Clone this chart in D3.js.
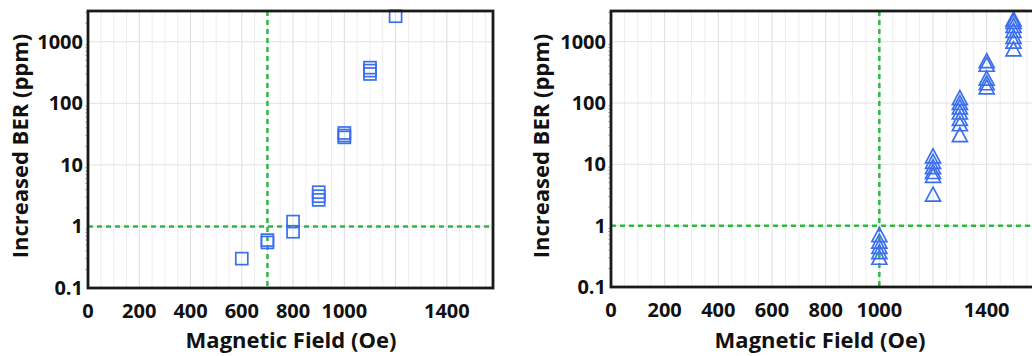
<!DOCTYPE html>
<html>
<head>
<meta charset="utf-8">
<script src="https://cdn.jsdelivr.net/npm/d3@7"></script>
<style>
  body { margin: 0; background: #fff; }
  svg text { font-family: "Open Sans", "Noto Sans", sans-serif; font-weight: 700; fill: #111; }
</style>
</head>
<body>
<div id="chart"></div>
<script>
(function () {
    'use strict';

    // tick labels shown on the axes
    var fieldTicks = [0, 200, 400, 600, 800, 1000, 1400],
        berTicks = [0.1, 1, 10, 100, 1000],
        berTickLabels = ["0.1", "1", "10", "100", "1000"];

    // left panel: square markers
    var squareField = [600, 700, 700, 800, 800, 900, 900, 900, 1000, 1000, 1000, 1100, 1100, 1100, 1200],
        squareBER = [0.3, 0.55, 0.6, 1.2, 0.82, 3.6, 3.1, 2.7, 33, 30, 28, 380, 340, 300, 2600],
        squareLimit = [700, 1];

    // right panel: triangle markers
    var triangleField = [1000, 1000, 1000, 1000, 1000,
            1200, 1200, 1200, 1200, 1200, 1200,
            1300, 1300, 1300, 1300, 1300, 1300, 1300,
            1400, 1400, 1400, 1400, 1400,
            1500, 1500, 1500, 1500, 1500, 1500, 1500],
        triangleBER = [0.7, 0.55, 0.45, 0.37, 0.3,
            13.5, 11, 9, 7.5, 6.5, 3.2,
            120, 100, 85, 70, 55, 45, 30,
            480, 420, 250, 210, 180,
            2300, 2100, 1800, 1500, 1200, 1000, 750],
        triangleLimit = [1000, 1];

    var width = 1032, height = 356,
        markColor = "#3b6ff0",
        limitColor = "#2fb944";

    var svg = d3.select("#chart").append("svg")
        .attr("width", width)
        .attr("height", height);

    function drawPanel(opt) {
        var x = d3.scaleLinear().domain([0, 1580]).range([opt.left, opt.right]),
            y = d3.scaleLog().domain([0.1, Math.pow(10, 3.5)]).range([opt.bottom, opt.top]),
            g = svg.append("g");

        // vertical grid, light every 50, a bit darker every 200
        g.append("g").selectAll("line")
            .data(d3.range(0, 1580, 50))
            .enter().append("line")
            .attr("x1", function (d) { return x(d); })
            .attr("x2", function (d) { return x(d); })
            .attr("y1", opt.top)
            .attr("y2", opt.bottom)
            .attr("stroke", function (d) { return d % 200 === 0 ? "#dcdcdc" : "#eeeeee"; })
            .attr("stroke-width", 1);

        // horizontal grid at decades
        g.append("g").selectAll("line")
            .data(berTicks)
            .enter().append("line")
            .attr("x1", opt.left)
            .attr("x2", opt.right)
            .attr("y1", function (d) { return y(d); })
            .attr("y2", function (d) { return y(d); })
            .attr("stroke", "#e2e2e2")
            .attr("stroke-width", 1);

        // minor log ticks on the y axis
        var minor = [];
        [0.1, 1, 10, 100, 1000].forEach(function (dec) {
            for (var k = 2; k < 10; k++) {
                if (dec * k <= y.domain()[1]) { minor.push(dec * k); }
            }
        });
        g.append("g").selectAll("line")
            .data(minor)
            .enter().append("line")
            .attr("x1", opt.left - 3)
            .attr("x2", opt.left)
            .attr("y1", function (d) { return y(d); })
            .attr("y2", function (d) { return y(d); })
            .attr("stroke", "#bbb");

        // threshold lines
        g.append("line")
            .attr("x1", x(opt.limit[0])).attr("x2", x(opt.limit[0]))
            .attr("y1", opt.top).attr("y2", opt.bottom)
            .attr("stroke", limitColor).attr("stroke-width", 2.5)
            .attr("stroke-dasharray", "5,4");
        g.append("line")
            .attr("x1", opt.left).attr("x2", opt.right)
            .attr("y1", y(opt.limit[1])).attr("y2", y(opt.limit[1]))
            .attr("stroke", limitColor).attr("stroke-width", 2.5)
            .attr("stroke-dasharray", "5,4");

        // markers
        var pts = opt.field.map(function (f, i) { return {f: f, v: opt.values[i]}; });
        if (opt.shape === "square") {
            g.append("g").selectAll("rect")
                .data(pts)
                .enter().append("rect")
                .attr("x", function (d) { return x(d.f) - 6; })
                .attr("y", function (d) { return y(d.v) - 6; })
                .attr("width", 12)
                .attr("height", 12)
                .attr("fill", "none")
                .attr("stroke", markColor)
                .attr("stroke-width", 1.7);
        } else {
            g.append("g").selectAll("path")
                .data(pts)
                .enter().append("path")
                .attr("transform", function (d) {
                    return "translate(" + x(d.f) + "," + y(d.v) + ")";
                })
                .attr("d", "M0,-7.5L7.5,6.5L-7.5,6.5Z")
                .attr("fill", "none")
                .attr("stroke", markColor)
                .attr("stroke-width", 1.7);
        }

        // frame
        g.append("rect")
            .attr("x", opt.left)
            .attr("y", opt.top)
            .attr("width", opt.right - opt.left)
            .attr("height", opt.bottom - opt.top)
            .attr("fill", "none")
            .attr("stroke", "#1a1a1a")
            .attr("stroke-width", 2.8);

        // tick labels
        g.append("g").selectAll("text")
            .data(fieldTicks)
            .enter().append("text")
            .attr("x", function (d) { return x(d); })
            .attr("y", opt.bottom + 30)
            .attr("text-anchor", "middle")
            .style("font-size", "20px")
            .text(function (d) { return d; });

        g.append("g").selectAll("text")
            .data(berTicks)
            .enter().append("text")
            .attr("x", opt.left - 5)
            .attr("y", function (d) { return y(d) + 7; })
            .attr("text-anchor", "end")
            .style("font-size", "20px")
            .text(function (d, i) { return berTickLabels[i]; });

        // axis titles
        g.append("text")
            .attr("x", opt.titleX)
            .attr("y", 348)
            .attr("text-anchor", "middle")
            .style("font-size", "22px")
            .text("Magnetic Field (Oe)");

        g.append("text")
            .attr("transform", "translate(" + opt.titleY + "," + 146 + ") rotate(-90)")
            .attr("text-anchor", "middle")
            .style("font-size", "22px")
            .text("Increased BER (ppm)");
    }

    drawPanel({
        left: 88, right: 493, top: 11, bottom: 288,
        field: squareField, values: squareBER, limit: squareLimit,
        shape: "square", titleX: 291, titleY: 28
    });

    drawPanel({
        left: 611, right: 1035, top: 11, bottom: 287,
        field: triangleField, values: triangleBER, limit: triangleLimit,
        shape: "triangle", titleX: 820, titleY: 549
    });
}());
</script>
</body>
</html>
